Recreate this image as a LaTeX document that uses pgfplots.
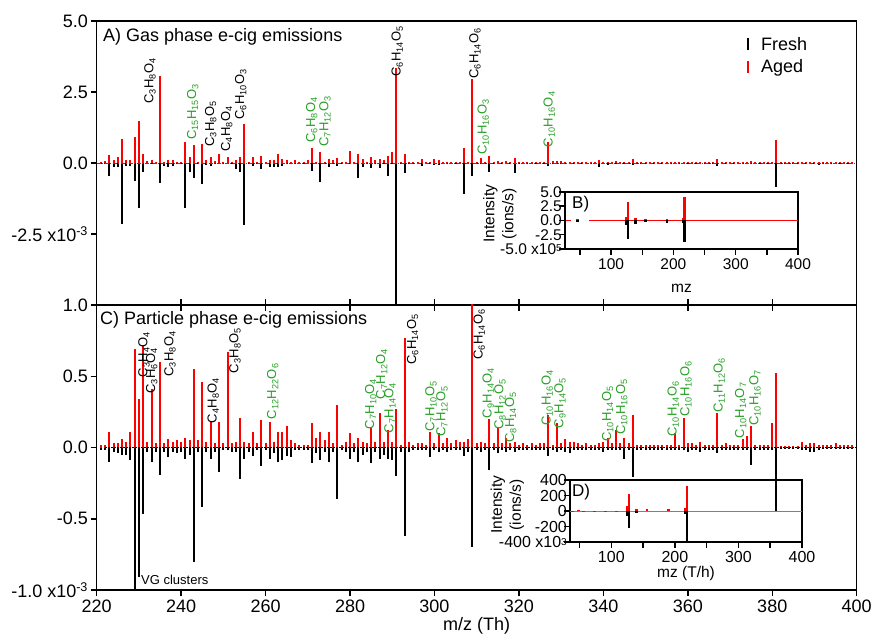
\documentclass[border=0pt]{standalone}
\usepackage{pgfplots}
\pgfplotsset{compat=1.18}
\usepackage{pgfplotstable}
\usepackage{fontspec}
\setmainfont{Liberation Sans}
\definecolor{agedred}{RGB}{255,0,0}
\definecolor{lblgreen}{RGB}{40,160,40}
\newcommand{\s}[1]{\textsubscript{#1}}
\newcommand{\fsz}[2]{\fontsize{#1}{#2}\selectfont}

% Panel A: gas phase (x 1e-3)
\pgfplotstableread{
mz aged fresh
221 0.05 -0.03
222 0.08 -0.05
223 0.27 -0.47
224 0.10 -0.15
225 0.20 -0.15
226 0.85 -2.14
227 0.10 -0.10
228 0.10 -0.10
229 0.90 -0.65
230 1.49 -1.60
231 0.30 -0.30
232 0.07 -0.05
233 0.12 -0.05
234 0.05 -0.05
235 3.06 -0.70
236 0.05 -0.10
237 0.12 -0.15
238 0.10 -0.10
239 0.05 -0.05
240 0.03 -0.03
241 0.74 -1.60
242 0.20 -0.30
243 0.65 -0.54
244 0.05 -0.05
245 0.67 -0.74
246 0.10 -0.08
247 0.22 -0.12
248 0.08 -0.05
249 0.31 -0.05
250 0.05 -0.03
251 0.20 -0.05
252 0.05 -0.03
253 0.10 -0.20
254 0.20 -0.30
255 1.36 -2.20
256 0.05 -0.03
257 0.20 -0.12
258 0.05 -0.03
259 0.24 -0.20
260 0.05 -0.03
261 0.10 -0.15
262 0.10 -0.15
263 0.30 -0.15
264 0.15 -0.10
265 0.10 -0.05
266 0.05 -0.05
267 0.10 -0.05
268 0.05 -0.05
269 0.05 -0.03
270 0.10 -0.05
271 0.53 -0.27
272 0.05 -0.03
273 0.39 -0.66
274 0.05 -0.03
275 0.15 -0.14
276 0.10 -0.03
277 0.16 -0.10
278 0.05 -0.05
279 0.05 -0.03
280 0.42 -0.05
281 0.05 -0.03
282 0.33 -0.54
283 0.14 -0.14
284 0.05 -0.03
285 0.21 -0.17
286 0.10 -0.03
287 0.14 -0.17
288 0.10 -0.03
289 0.23 -0.47
290 0.37 -0.05
291 3.33 -6.00
292 0.05 -0.03
293 0.30 -0.35
294 0.05 -0.03
295 0.05 -0.03
296 0.05 -0.03
297 0.14 -0.10
298 0.05 -0.03
299 0.05 -0.03
300 0.14 -0.08
301 0.10 -0.08
302 0.05 -0.03
303 0.05 -0.05
304 0.03 -0.02
305 0.03 -0.02
306 0.05 -0.03
307 0.54 -1.09
308 0.05 -0.03
309 2.95 -0.47
310 0.05 -0.03
311 0.18 -0.05
312 0.05 -0.03
313 0.24 -0.30
314 0.05 -0.03
315 0.08 -0.05
316 0.05 -0.03
317 0.06 -0.03
318 0.03 -0.02
319 0.18 -0.35
320 0.03 -0.02
321 0.03 -0.02
322 0.05 -0.02
323 0.03 -0.02
324 0.03 -0.02
325 0.05 -0.02
326 0.03 -0.02
327 0.75 -0.12
328 0.08 -0.02
329 0.06 -0.02
330 0.06 -0.02
331 0.04 -0.02
332 0.03 -0.02
333 0.03 -0.02
334 0.03 -0.02
335 0.03 -0.02
336 0.03 -0.02
337 0.03 -0.02
338 0.03 -0.02
339 0.10 -0.14
340 0.03 -0.02
341 0.05 -0.06
342 0.03 -0.02
343 0.06 -0.02
344 0.03 -0.02
345 0.05 -0.02
346 0.03 -0.02
347 0.15 -0.06
348 0.02 -0.02
349 0.02 -0.02
350 0.02 -0.02
351 0.02 -0.02
352 0.03 -0.02
353 0.02 -0.02
354 0.02 -0.02
355 0.02 -0.02
356 0.03 -0.02
357 0.02 -0.02
358 0.02 -0.02
359 0.03 -0.02
360 0.02 -0.02
361 0.02 -0.02
362 0.02 -0.02
363 0.03 -0.02
364 0.02 -0.02
365 0.02 -0.02
366 0.02 -0.02
367 0.14 -0.10
368 0.02 -0.02
369 0.02 -0.02
370 0.02 -0.02
371 0.02 -0.02
372 0.04 -0.02
373 0.02 -0.02
374 0.02 -0.02
375 0.06 -0.02
376 0.03 -0.02
377 0.02 -0.02
378 0.02 -0.02
379 0.02 -0.02
380 0.02 -0.02
381 0.81 -0.83
382 0.02 -0.02
383 0.02 -0.02
384 0.02 -0.02
385 0.03 -0.02
386 0.02 -0.02
387 0.02 -0.02
388 0.02 -0.02
389 0.02 -0.02
390 0.02 -0.02
391 0.05 -0.06
392 0.02 -0.02
393 0.02 -0.02
394 0.02 -0.02
395 0.02 -0.02
396 0.02 -0.02
397 0.02 -0.02
398 0.02 -0.02
399 0.02 -0.02
}\tabA

% Panel C: particle phase (x 1e-3)
\pgfplotstableread{
mz aged fresh
221 0.02 -0.02
222 0.02 -0.02
223 0.11 -0.10
224 0.03 -0.03
225 0.03 -0.04
226 0.06 -0.05
227 0.04 -0.05
228 0.11 -0.09
229 0.69 -1.20
230 0.34 -0.91
231 0.71 -0.47
232 0.04 -0.03
233 0.41 -0.10
234 0.03 -0.03
235 0.60 -0.19
236 0.03 -0.03
237 0.06 -0.07
238 0.04 -0.03
239 0.05 -0.04
240 0.04 -0.03
241 0.07 -0.08
242 0.05 -0.05
243 0.55 -0.80
244 0.05 -0.03
245 0.46 -0.42
246 0.04 -0.03
247 0.18 -0.08
248 0.03 -0.03
249 0.18 -0.17
250 0.03 -0.02
251 0.67 -0.02
252 0.03 -0.03
253 0.04 -0.03
254 0.21 -0.22
255 0.04 -0.08
256 0.03 -0.03
257 0.11 -0.06
258 0.03 -0.02
259 0.19 -0.13
260 0.03 -0.02
261 0.18 -0.08
262 0.04 -0.04
263 0.11 -0.10
264 0.11 -0.09
265 0.15 -0.06
266 0.05 -0.07
267 0.03 -0.02
268 0.02 -0.02
269 0.02 -0.02
270 0.02 -0.02
271 0.17 -0.11
272 0.07 -0.04
273 0.11 -0.09
274 0.05 -0.03
275 0.11 -0.10
276 0.03 -0.03
277 0.30 -0.36
278 0.02 -0.02
279 0.04 -0.03
280 0.10 -0.08
281 0.03 -0.03
282 0.07 -0.10
283 0.04 -0.05
284 0.03 -0.03
285 0.14 -0.11
286 0.04 -0.03
287 0.24 -0.08
288 0.04 -0.05
289 0.12 -0.08
290 0.04 -0.09
291 0.27 -0.20
292 0.02 -0.03
293 0.77 -0.62
294 0.04 -0.03
295 0.02 -0.02
296 0.03 -0.02
297 0.03 -0.02
298 0.02 -0.02
299 0.11 -0.07
300 0.03 -0.02
301 0.10 -0.03
302 0.03 -0.02
303 0.07 -0.03
304 0.03 -0.02
305 0.05 -0.02
306 0.04 -0.02
307 0.04 -0.06
308 0.06 -0.03
309 1.10 -0.70
310 0.03 -0.02
311 0.04 -0.03
312 0.03 -0.02
313 0.20 -0.16
314 0.03 -0.02
315 0.14 -0.04
316 0.03 -0.02
317 0.07 -0.03
318 0.03 -0.02
319 0.04 -0.03
320 0.02 -0.02
321 0.03 -0.02
322 0.02 -0.02
323 0.03 -0.02
324 0.02 -0.02
325 0.03 -0.02
326 0.03 -0.02
327 0.23 -0.06
328 0.02 -0.02
329 0.17 -0.03
330 0.03 -0.02
331 0.06 -0.03
332 0.04 -0.04
333 0.04 -0.02
334 0.03 -0.02
335 0.02 -0.02
336 0.03 -0.02
337 0.02 -0.02
338 0.02 -0.02
339 0.03 -0.02
340 0.04 -0.03
341 0.07 -0.02
342 0.03 -0.02
343 0.12 -0.02
344 0.03 -0.02
345 0.07 -0.08
346 0.03 -0.02
347 0.23 -0.21
348 0.02 -0.02
349 0.02 -0.02
350 0.02 -0.02
351 0.02 -0.02
352 0.02 -0.02
353 0.02 -0.02
354 0.02 -0.02
355 0.02 -0.02
356 0.02 -0.02
357 0.10 -0.02
358 0.02 -0.02
359 0.21 -0.02
360 0.03 -0.03
361 0.03 -0.02
362 0.02 -0.02
363 0.04 -0.03
364 0.02 -0.02
365 0.02 -0.02
366 0.02 -0.02
367 0.24 -0.04
368 0.02 -0.02
369 0.03 -0.02
370 0.02 -0.02
371 0.02 -0.02
372 0.02 -0.02
373 0.06 -0.02
374 0.08 -0.02
375 0.15 -0.12
376 0.02 -0.02
377 0.02 -0.02
378 0.02 -0.02
379 0.02 -0.02
380 0.17 -0.02
381 0.52 -0.455
382 0.01 -0.01
383 0.01 -0.01
384 0.01 -0.01
385 0.01 -0.01
386 0.01 -0.01
387 0.04 -0.02
388 0.02 -0.02
389 0.03 -0.03
390 0.03 -0.03
391 0.02 -0.02
392 0.02 -0.01
393 0.02 -0.01
394 0.02 -0.01
395 0.03 -0.01
396 0.02 -0.01
397 0.02 -0.01
398 0.02 -0.01
399 0.02 -0.01
}\tabC

\pgfplotstableread{
mz aged fresh
46 0.20 -0.20
125 0.64 -0.80
127 3.27 -3.20
139 0.45 -0.60
155 0.35 -0.25
190 0.30 -0.50
215 0.50 -0.50
218 4.16 -3.70
}\tabB

\pgfplotstableread{
mz aged fresh
48 10 0
125 64 -64
128 223 -213
140 20 -30
156 20 0
190 20 0
216 40 -40
219 321 -450
}\tabD

\pgfplotsset{
  spec/.style={scale only axis, anchor=south west, tick align=outside,
    axis line style={line width=1.5pt}, tick style={line width=1.5pt, black},
    major tick length=6pt, clip=true},
}
\tikzset{lab/.style={font=\fsz{13}{13}, inner sep=0pt, rotate=90, anchor=west}}

\begin{document}
\begin{tikzpicture}[x=1pt,y=1pt]
\useasboundingbox (0,0) rectangle (873,635);

% ---------------- Panel A ----------------
\begin{axis}[spec, at={(96.7pt,330pt)}, width=760pt, height=284pt,
  xmin=220, xmax=400, ymin=-5, ymax=5,
  xtick={220,240,...,400}, xticklabel=\empty,
  xtick pos=left, ytick pos=left,
  ytick={-2.5,0,2.5,5}, yticklabels={{-2.5 x10\textsuperscript{-3}},0.0,2.5,5.0},
  tick label style={font=\fsz{18}{18}},
  yticklabel style={inner sep=2.5pt},
  legend style={at={(axis description cs:0.849,0.951)}, anchor=north west,
    draw=none, fill=none, font=\fsz{18}{18}, row sep=4pt, inner sep=0pt},
  legend cell align=left,
  legend image code/.code={\draw[#1, line width=2.2pt] (6pt,-6pt) -- (6pt,6pt); \path[draw=none, fill=none] (0pt,0pt) rectangle (17pt,0.1pt);},
]
\addplot[ycomb, black, line width=2pt, forget plot] table[x=mz, y=fresh]{\tabA};
\addplot[ycomb, agedred, line width=2pt, forget plot] table[x=mz, y=aged]{\tabA};
\addplot[agedred, line width=0.8pt, dash pattern=on 4pt off 1.5pt on 1pt off 1.5pt, forget plot] coordinates {(220,0) (400,0)};
\addlegendimage{black}
\addlegendentry{Fresh}
\addlegendimage{agedred}
\addlegendentry{Aged}
\end{axis}

% ---------------- Panel C ----------------
\begin{axis}[spec, at={(96.7pt,45pt)}, width=760pt, height=285pt,
  xmin=220, xmax=400, ymin=-1, ymax=1,
  xtick={220,240,...,400}, xticklabels={220,240,260,280,300,320,340,360,380,400},
  xtick pos=both, xticklabel pos=left, ytick pos=left,
  ytick={-1,-0.5,0,0.5,1}, yticklabels={{-1.0 x10\textsuperscript{-3}},-0.5,0.0,0.5,1.0},
  tick label style={font=\fsz{18}{18}},
  yticklabel style={inner sep=2.5pt},
  xlabel={m/z (Th)}, xlabel style={at={(axis description cs:0.5,-0.126)}, anchor=center, font=\fsz{18}{18}},
]
\addplot[ycomb, black, line width=2pt] table[x=mz, y=fresh]{\tabC};
\addplot[ycomb, agedred, line width=2pt] table[x=mz, y=aged]{\tabC};
\addplot[black, line width=0.9pt, dash pattern=on 1.5pt off 1.5pt] coordinates {(222,0) (400,0)};
\end{axis}

% ---------------- Inset B ----------------
\begin{axis}[spec, at={(565pt,386pt)}, width=233pt, height=57pt,
  xmin=26, xmax=400, ymin=-5, ymax=5,
  xtick={50,100,...,400}, xticklabels={,100,,200,,300,,400},
  ytick={-5,-2.5,0,2.5,5}, yticklabels={{-5.0 x10\raisebox{2.5pt}{\fsz{10}{10}5}},-2.5,0.0,2.5,5.0},
  xtick pos=left, ytick pos=left,
  tick label style={font=\fsz{15.5}{15.5}},
  yticklabel style={inner sep=0pt, xshift=3pt},
  xlabel={mz}, xlabel style={at={(axis description cs:0.5,-0.69)}, anchor=center, font=\fsz{15.5}{19}},
  ylabel={Intensity\\(ions/s)}, ylabel style={at={(axis description cs:-0.28,0.62)}, anchor=center, align=center, font=\fsz{15.5}{19}},
]
\addplot[agedred, line width=0.7pt] coordinates {(65,0) (400,0)};
\addplot[agedred, line width=0.7pt] coordinates {(27,0) (35,0)};
\addplot[ycomb, black, line width=2.5pt] table[x=mz, y=fresh]{\tabB};
\addplot[ycomb, agedred, line width=2.5pt] table[x=mz, y=aged]{\tabB};
\end{axis}

% ---------------- Inset D ----------------
\begin{axis}[spec, at={(570pt,93pt)}, width=232pt, height=62pt,
  xmin=35, xmax=400, ymin=-400, ymax=400,
  xtick={50,100,...,400}, xticklabels={,100,,200,,300,,400},
  ytick={-400,-200,0,200,400}, yticklabels={{-400 x10\raisebox{2.5pt}{\fsz{10}{10}3}},-200,0,200,400},
  xtick pos=left, ytick pos=left,
  tick label style={font=\fsz{16}{16}},
  yticklabel style={inner sep=0pt, xshift=3pt},
  xlabel={mz (T/h)}, xlabel style={at={(axis description cs:0.5,-0.5)}, anchor=center, font=\fsz{15.5}{19}},
  ylabel={Intensity\\(ions/s)}, ylabel style={at={(axis description cs:-0.27,0.6)}, anchor=center, align=center, font=\fsz{15.5}{19}},
]
\addplot[gray, line width=0.7pt] coordinates {(35,0) (400,0)};
\addplot[agedred, line width=0.8pt, dash pattern=on 3pt off 8pt] coordinates {(36,0) (120,0)};
\addplot[ycomb, black, line width=2.5pt] table[x=mz, y=fresh]{\tabD};
\addplot[ycomb, agedred, line width=2.5pt] table[x=mz, y=aged]{\tabD};
\end{axis}

% ---------------- titles & notes ----------------
\node[anchor=base west, inner sep=0pt, font=\fsz{18}{18}] at (103,593) {A) Gas phase e-cig emissions};
\node[anchor=base west, inner sep=0pt, font=\fsz{18}{18}] at (100,310) {C) Particle phase e-cig emissions};
\node[anchor=north west, inner sep=0pt, font=\fsz{17}{17}] at (572,439) {B)};
\node[anchor=north west, inner sep=0pt, font=\fsz{17}{17}] at (572,151) {D)};
\node[anchor=west, inner sep=0pt, font=\fsz{13}{13}] at (141,55) {VG clusters};

% ---------------- labels panel A ----------------
\node[lab] at (150,531) {C\s{3}H\s{8}O\s{4}};
\node[lab, lblgreen] at (192.7,495) {C\s{15}H\s{15}O\s{3}};
\node[lab] at (210.7,488.3) {C\s{3}H\s{8}O\s{5}};
\node[lab] at (226.7,483.3) {C\s{4}H\s{8}O\s{4}};
\node[lab] at (240.7,515) {C\s{6}H\s{10}O\s{3}};
\node[lab, lblgreen] at (311.7,492.3) {C\s{6}H\s{8}O\s{4}};
\node[lab, lblgreen] at (325,488.3) {C\s{7}H\s{12}O\s{3}};
\node[lab] at (397.3,558.3) {C\s{6}H\s{14}O\s{5}};
\node[lab] at (475,556) {C\s{6}H\s{14}O\s{6}};
\node[lab, lblgreen] at (483.3,480) {C\s{10}H\s{16}O\s{3}};
\node[lab, lblgreen] at (549.3,487.7) {C\s{10}H\s{16}O\s{4}};

% ---------------- labels panel C ----------------
\node[lab] at (144,257.7) {C\s{3}H\s{4}O\s{4}};
\node[lab] at (151.7,241) {C\s{3}H\s{6}O\s{4}};
\node[lab] at (170,258.3) {C\s{3}H\s{8}O\s{4}};
\node[lab] at (213.3,211.7) {C\s{4}H\s{8}O\s{4}};
\node[lab] at (235,261.7) {C\s{3}H\s{8}O\s{5}};
\node[lab, lblgreen] at (272.7,215.7) {C\s{12}H\s{22}O\s{6}};
\node[lab, lblgreen] at (370.7,205.7) {C\s{7}H\s{10}O\s{4}};
\node[lab, lblgreen] at (381.7,235.7) {C\s{7}H\s{12}O\s{4}};
\node[lab, lblgreen] at (390,201.7) {C\s{7}H\s{14}O\s{4}};
\node[lab] at (412.7,270) {C\s{6}H\s{14}O\s{5}};
\node[lab, lblgreen] at (431,203.3) {C\s{7}H\s{10}O\s{5}};
\node[lab, lblgreen] at (442,198.3) {C\s{7}H\s{12}O\s{5}};
\node[lab] at (479.3,275) {C\s{6}H\s{14}O\s{6}};
\node[lab, lblgreen] at (488.3,216.7) {C\s{9}H\s{14}O\s{4}};
\node[lab, lblgreen] at (500,205) {C\s{8}H\s{12}O\s{5}};
\node[lab, lblgreen] at (510.7,192.3) {C\s{8}H\s{14}O\s{5}};
\node[lab, lblgreen] at (547.3,209) {C\s{10}H\s{16}O\s{4}};
\node[lab, lblgreen] at (560,206.7) {C\s{9}H\s{14}O\s{5}};
\node[lab, lblgreen] at (607.7,193.3) {C\s{10}H\s{14}O\s{5}};
\node[lab, lblgreen] at (621.7,200) {C\s{10}H\s{16}O\s{5}};
\node[lab, lblgreen] at (673.3,198.3) {C\s{10}H\s{14}O\s{6}};
\node[lab, lblgreen] at (686,218.3) {C\s{10}H\s{16}O\s{6}};
\node[lab, lblgreen] at (719.3,222.3) {C\s{11}H\s{12}O\s{6}};
\node[lab, lblgreen] at (740.7,196.7) {C\s{10}H\s{14}O\s{7}};
\node[lab, lblgreen] at (755,209) {C\s{10}H\s{16}O\s{7}};
\end{tikzpicture}
\end{document}
